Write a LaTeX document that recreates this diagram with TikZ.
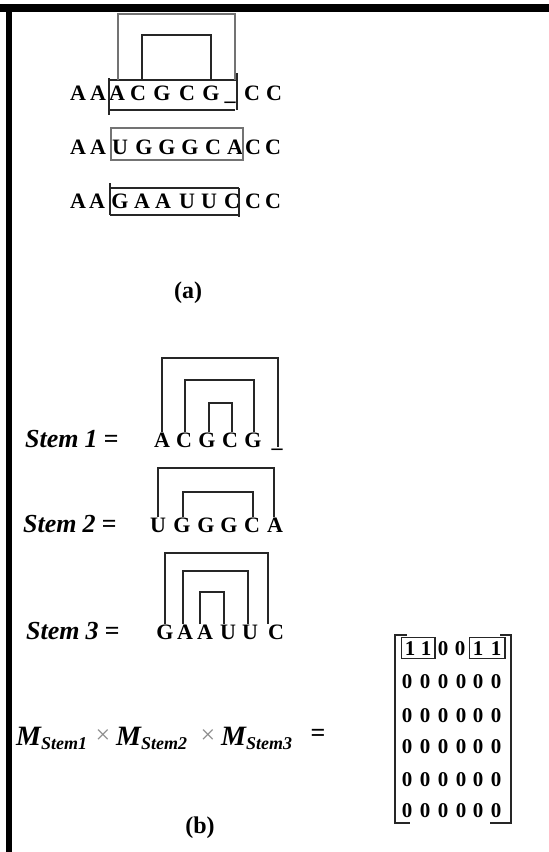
\documentclass[tikz,border=0pt]{standalone}
\usepackage{fontspec}
\setmainfont{Liberation Serif}
\usetikzlibrary{fit}
\begin{document}
\begin{tikzpicture}[x=1pt,y=-1pt,
  seq/.style={font=\fontsize{22}{26}\selectfont\bfseries, inner sep=0pt, anchor=base},
  lab/.style={font=\fontsize{26}{30}\selectfont\bfseries\itshape, inner sep=0pt, anchor=base west},
  capt/.style={font=\fontsize{24}{28}\selectfont\bfseries, inner sep=0pt},
  mat/.style={font=\fontsize{21}{25}\selectfont\bfseries, inner sep=0pt, anchor=base},
  ln/.style={line width=1.1pt, black!85},
  lng/.style={line width=1.1pt, black!55},
  pairbox/.style={draw, line width=1.1pt, black!85, inner xsep=3.5pt, inner ysep=3.5pt}]
\useasboundingbox (0,0) rectangle (549,852);
\fill[white] (0,0) rectangle (549,852);
% frame
\fill[black] (0,4) rectangle (549,12);
\fill[black] (6,4) rectangle (12,852);

% ---------- (a) ----------
\foreach \ch/\x [count=\i] in {A/78,A/98,A/117,C/138,G/162,C/187,G/211,\_/230,C/252,C/274}
  \node[seq] (ra\i) at (\x,100) {\ch};
\foreach \ch/\x [count=\i] in {A/78,A/98,U/120,G/144,G/167,G/190,C/213,A/235,C/253,C/273}
  \node[seq] (rb\i) at (\x,154) {\ch};
\foreach \ch/\x [count=\i] in {A/78,A/97,G/120,A/142,A/163,U/187,U/209,C/232,C/253,C/273}
  \node[seq] (rc\i) at (\x,208) {\ch};

% boxes
\draw[ln] (109,80) -- (237,80);
\draw[ln] (109,110) -- (235,110);
\draw[ln] (109,78) -- (109,115);
\draw[ln] (237,73) -- (237,110);
\draw[lng] (111,128) rectangle (243,160);
\draw[ln] (110,188) -- (239,188);
\draw[ln] (110,215) -- (239,215);
\draw[ln] (110,183) -- (110,215);
\draw[ln] (239,188) -- (239,217);
% pairing arcs of (a)
\draw[lng] (118,80) |- (235,14) -- (235,80);
\draw[ln] (142,80) |- (211,35) -- (211,80);

\node[capt] (capa) at (188,293) {(a)};

% ---------- (b) ----------
\node[lab] (lab1) at (25,447) {Stem\hspace{6pt}1\hspace{6pt}=};
\node[lab] (lab2) at (23,532) {Stem\hspace{6pt}2\hspace{6pt}=};
\node[lab] (lab3) at (26,639) {Stem\hspace{6pt}3\hspace{6pt}=};

\foreach \ch/\x [count=\i] in {A/162,C/184,G/207,C/230,G/253,\_/277}
  \node[seq] (sa\i) at (\x,447) {\ch};
\foreach \ch/\x [count=\i] in {U/158,G/182,G/206,G/229,C/252,A/275}
  \node[seq] (sb\i) at (\x,532) {\ch};
\foreach \ch/\x [count=\i] in {G/165,A/185,A/205,U/228,U/250,C/276}
  \node[seq] (sc\i) at (\x,639) {\ch};

\coordinate (ta1) at (220,358);
\coordinate (ta2) at (220,380);
\coordinate (ta3) at (220,403);
\draw[ln] (sa1.north) |- (ta1) -| ([xshift=1pt]sa6.north);
\draw[ln] ([xshift=1pt]sa2.north) |- (ta2) -| ([xshift=1pt]sa5.north);
\draw[ln] ([xshift=2pt]sa3.north) |- (ta3) -| ([xshift=2pt]sa4.north);

\coordinate (tb1) at (216,468);
\coordinate (tb2) at (216,492);
\draw[ln] (sb1.north) |- (tb1) -| ([xshift=-1pt]sb6.north);
\draw[ln] ([xshift=1pt]sb2.north) |- (tb2) -| ([xshift=1pt]sb5.north);

\coordinate (tc1) at (216,553);
\coordinate (tc2) at (216,571);
\coordinate (tc3) at (212,592);
\draw[ln] (sc1.north) |- (tc1) -| ([xshift=-8pt]sc6.north);
\draw[ln] ([xshift=-2pt]sc2.north) |- (tc2) -| ([xshift=-2pt]sc5.north);
\draw[ln] ([xshift=-5pt]sc3.north) |- (tc3) -| ([xshift=-4pt]sc4.north);

% product line
\node[inner sep=0pt, anchor=base west] (mp1) at (16,745)
  {{\fontsize{28}{30}\selectfont\bfseries\itshape M}\raisebox{-4pt}{\fontsize{18}{20}\selectfont\bfseries\itshape Stem1}};
\node[inner sep=0pt, anchor=base, font=\fontsize{26}{28}\selectfont, text=black!45] (x1) at (103,743) {×};
\node[inner sep=0pt, anchor=base west] (mp2) at (116,745)
  {{\fontsize{28}{30}\selectfont\bfseries\itshape M}\raisebox{-4pt}{\fontsize{18}{20}\selectfont\bfseries\itshape Stem2}};
\node[inner sep=0pt, anchor=base, font=\fontsize{26}{28}\selectfont, text=black!45] (x2) at (208,743) {×};
\node[inner sep=0pt, anchor=base west] (mp3) at (221,745)
  {{\fontsize{28}{30}\selectfont\bfseries\itshape M}\raisebox{-4pt}{\fontsize{18}{20}\selectfont\bfseries\itshape Stem3}};
\node[inner sep=0pt, anchor=base, font=\fontsize{26}{28}\selectfont\bfseries] (eq) at (318,741) {=};

% matrix
\foreach \v/\x [count=\c] in {1/410,1/426,0/443,0/460,1/478,1/496}
  \node[mat] (m1-\c) at (\x,655) {\v};
\foreach \y [count=\r from 2] in {688,722,753,786,817}
  \foreach \x [count=\c] in {407,425,443,461,478,496}
    \node[mat] (m\r-\c) at (\x,\y) {0};
\node[pairbox, fit=(m1-1)(m1-2)] (pl) {};
\node[pairbox, fit=(m1-5)(m1-6)] (pr) {};
\draw[ln] (407,635) -| (395,823) -- (410,823);
\draw[ln] (500,635) -| (511,823) -- (490,823);

\node[capt] (capb) at (200,828) {(b)};
\end{tikzpicture}
\end{document}
